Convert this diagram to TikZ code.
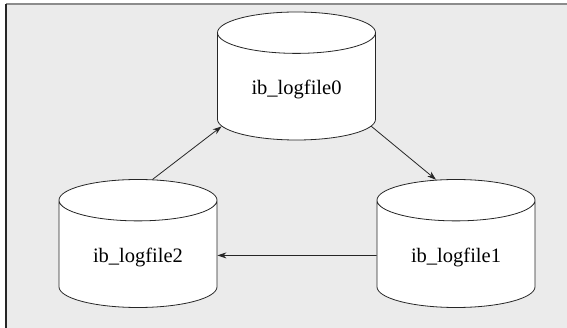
\documentclass[tikz,border=0pt]{standalone}
\usepackage{fontspec}
\setmainfont{Liberation Serif}
\usetikzlibrary{shapes.geometric,arrows.meta}
\tikzset{
  logdisk/.style={cylinder, shape border rotate=90, draw=black!85, fill=white,
    minimum width=158pt, minimum height=128pt, aspect=0.46, inner sep=0pt,
    anchor=shape center, font=\fontsize{20.5}{25}\selectfont, line width=0.8pt},
}
\newcommand{\lowtext}[1]{\raisebox{-3pt}[15pt][5pt]{#1}}
\begin{document}
\begin{tikzpicture}[x=1pt,y=-1pt,>={Stealth[length=9pt,width=6pt]}]
		\useasboundingbox (0,0) rectangle (567,328);
		\fill[fill=black!8] (6,4) rectangle (567,328);
		\draw[black!45,line width=1.2pt] (6,4) -- (567,4);
		\draw[black!85,line width=1.2pt] (6,4) -- (6,328);

		\node[logdisk] (log0) at (296.5,76) {\lowtext{ib\_logfile0}};
		\node[logdisk] (log1) at (456,243.5) {\lowtext{ib\_logfile1}};
		\node[logdisk] (log2) at (138,243.5) {\lowtext{ib\_logfile2}};

		\draw[black!85,line width=0.8pt,->] (log2.79) -- (log0.208);
		\draw[black!85,line width=0.8pt,->] (log0.332) -- (log1.105);
		\draw[black!85,line width=0.8pt,->] (log1.181) -- (log2.359);
	\end{tikzpicture}
\end{document}
